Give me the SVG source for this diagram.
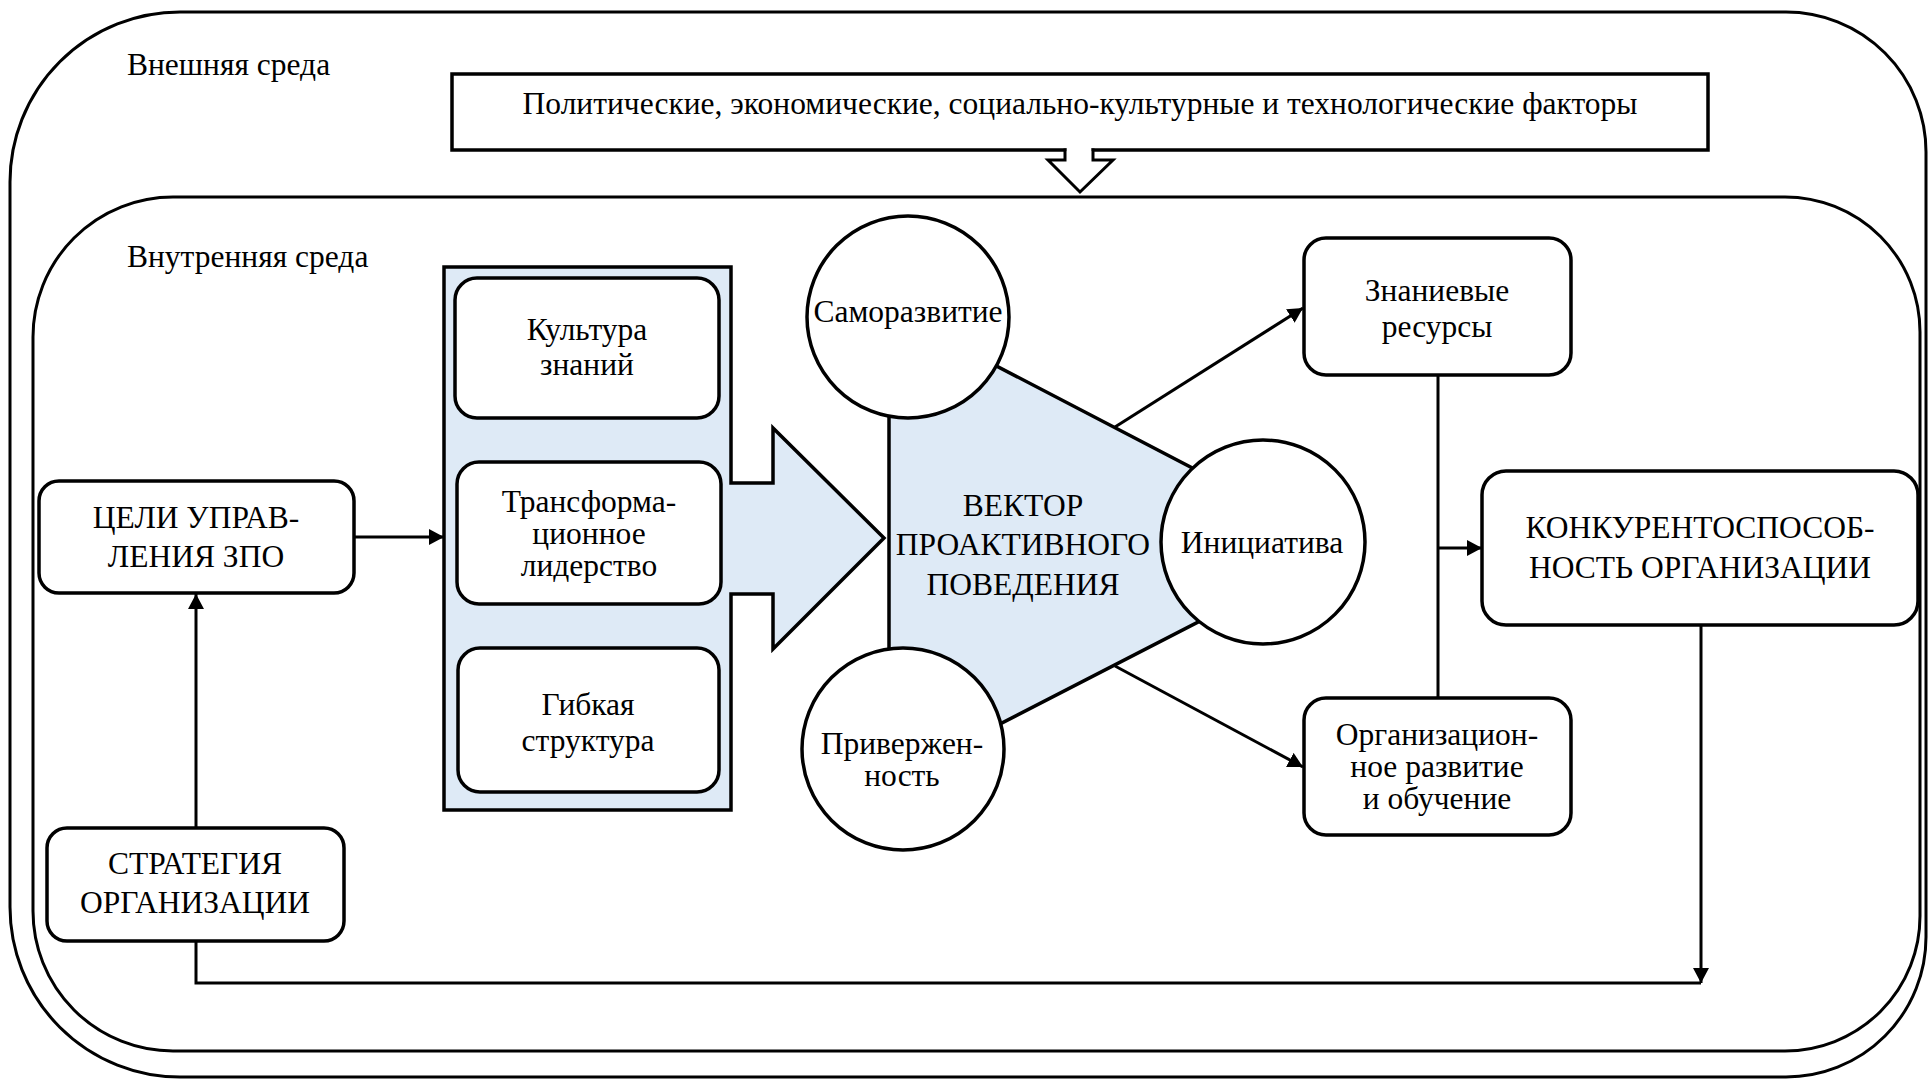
<svg xmlns="http://www.w3.org/2000/svg" width="1930" height="1080" viewBox="0 0 1930 1080">
  <defs>
    <marker id="arr" markerUnits="userSpaceOnUse" markerWidth="16" markerHeight="16" refX="15" refY="8" orient="auto">
      <path d="M0,0 L15,8 L0,16 Z" fill="#000"/>
    </marker>
    <style>
      text { font-family: "Liberation Serif", "Times New Roman", serif; font-size: 31.5px; fill: #000; }
      .c { text-anchor: middle; }
      .box { fill: #fff; stroke: #000; stroke-width: 3.5; }
      .env { fill: none; stroke: #000; stroke-width: 3; }
      .blue { fill: #deeaf6; stroke: #000; stroke-width: 3.5; stroke-linejoin: miter; }
      .circ { fill: #fff; stroke: #000; stroke-width: 3.5; }
      .ln { fill: none; stroke: #000; stroke-width: 3; }
    </style>
  </defs>
  <rect width="1930" height="1080" fill="#fff"/>

  <g id="external-env">
    <path class="env" d="M180,12 H1786 A140,140 0 0 1 1926,152 V937 A140,140 0 0 1 1786,1077 H180 A170,170 0 0 1 10,907 V182 A170,170 0 0 1 180,12 Z"/>
    <text x="127" y="75">Внешняя среда</text>
  </g>

  <g id="factors">
    <rect class="box" x="452" y="74" width="1256" height="76"/>
    <polygon points="1065,150 1065,160 1048,160 1080,192 1113,160 1093,160 1093,150" fill="#fff" stroke="#000" stroke-width="3" stroke-linejoin="miter"/>
    <rect x="1066.7" y="146" width="24.6" height="6" fill="#fff"/>
    <text class="c" x="1080" y="114">Политические, экономические, социально-культурные и технологические факторы</text>
  </g>

  <g id="internal-env">
    <path class="env" d="M173,197 H1785 A135,135 0 0 1 1920,332 V916 A135,135 0 0 1 1785,1051 H173 A140,140 0 0 1 33,911 V337 A140,140 0 0 1 173,197 Z"/>
    <text x="127" y="267">Внутренняя среда</text>
  </g>

  <g id="connectors">
    <path class="ln" d="M354,537 H444" marker-end="url(#arr)"/>
    <path class="ln" d="M196,828 V594" marker-end="url(#arr)"/>
    <path class="ln" d="M196,941 V983 H1701"/>
    <path class="ln" d="M1701,626 V983" marker-end="url(#arr)"/>
    <path class="ln" d="M1115,427 L1303,308" marker-end="url(#arr)"/>
    <path class="ln" d="M1115,666 L1303,767" marker-end="url(#arr)"/>
    <path class="ln" d="M1438,376 V697"/>
    <path class="ln" d="M1438,548 H1482" marker-end="url(#arr)"/>
  </g>

  <g id="factors-container">
    <path class="blue" d="M444,267 H731 V483 H773 V428 L884,538 L773,649 V594 H731 V810 H444 Z"/>
  </g>

  <g id="culture">
    <rect class="box" x="455" y="278" width="264" height="140" rx="22"/>
    <text class="c" x="587" y="340">Культура</text>
    <text class="c" x="587" y="375">знаний</text>
  </g>

  <g id="leadership">
    <rect class="box" x="457" y="462" width="264" height="142" rx="22"/>
    <text class="c" x="589" y="512">Трансформа-</text>
    <text class="c" x="589" y="544">ционное</text>
    <text class="c" x="589" y="576">лидерство</text>
  </g>

  <g id="structure">
    <rect class="box" x="458" y="648" width="261" height="144" rx="22"/>
    <text class="c" x="588" y="715">Гибкая</text>
    <text class="c" x="588" y="751">структура</text>
  </g>

  <g id="goals">
    <rect class="box" x="39" y="481" width="315" height="112" rx="20"/>
    <text class="c" x="196" y="528">ЦЕЛИ УПРАВ-</text>
    <text class="c" x="196" y="567">ЛЕНИЯ ЗПО</text>
  </g>

  <g id="strategy">
    <rect class="box" x="47" y="828" width="297" height="113" rx="20"/>
    <text class="c" x="195" y="874">СТРАТЕГИЯ</text>
    <text class="c" x="195" y="913">ОРГАНИЗАЦИИ</text>
  </g>

  <g id="vector">
    <polygon class="blue" points="889,310 1344,547 889,781"/>
    <text class="c" x="1023" y="516">ВЕКТОР</text>
    <text class="c" x="1023" y="555">ПРОАКТИВНОГО</text>
    <text class="c" x="1023" y="595">ПОВЕДЕНИЯ</text>
  </g>

  <g id="self-development">
    <circle class="circ" cx="908" cy="317" r="101"/>
    <text class="c" x="908" y="322">Саморазвитие</text>
  </g>

  <g id="initiative">
    <circle class="circ" cx="1263" cy="542" r="102"/>
    <text class="c" x="1262" y="553">Инициатива</text>
  </g>

  <g id="commitment">
    <circle class="circ" cx="903" cy="749" r="101"/>
    <text class="c" x="902" y="754">Привержен-</text>
    <text class="c" x="902" y="786">ность</text>
  </g>

  <g id="knowledge-resources">
    <rect class="box" x="1304" y="238" width="267" height="137" rx="22"/>
    <text class="c" x="1437" y="301">Знаниевые</text>
    <text class="c" x="1437" y="337">ресурсы</text>
  </g>

  <g id="org-development">
    <rect class="box" x="1304" y="698" width="267" height="137" rx="22"/>
    <text class="c" x="1437" y="745">Организацион-</text>
    <text class="c" x="1437" y="777">ное развитие</text>
    <text class="c" x="1437" y="809">и обучение</text>
  </g>

  <g id="competitiveness">
    <rect class="box" x="1482" y="471" width="436" height="154" rx="24"/>
    <text class="c" x="1700" y="538">КОНКУРЕНТОСПОСОБ-</text>
    <text class="c" x="1700" y="578">НОСТЬ ОРГАНИЗАЦИИ</text>
  </g>
</svg>
